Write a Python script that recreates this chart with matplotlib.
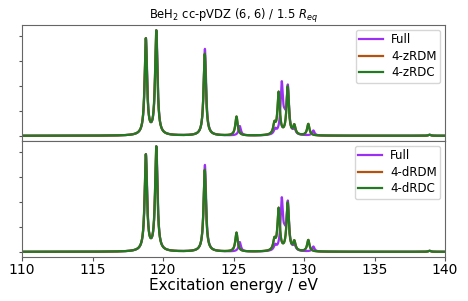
import numpy as np
import matplotlib
matplotlib.use("Agg")
import matplotlib.pyplot as plt

# Stick spectra (excitation energy in eV, relative intensity)
full_e = [118.79, 119.53, 122.97, 125.44, 127.95, 128.42, 128.62, 128.85, 129.32, 130.66, 138.9]
full_i = [0.96, 1.04, 0.87, 0.095, 0.05, 0.50, 0.10, 0.47, 0.05, 0.05, 0.01]

z_rdm_e = [118.78, 119.52, 122.96, 125.21, 127.90, 128.20, 128.84, 129.31, 130.30, 138.9]
z_rdm_i = [0.96, 1.04, 0.82, 0.19, 0.10, 0.42, 0.48, 0.09, 0.115, 0.01]
z_rdc_e = z_rdm_e
z_rdc_i = z_rdm_i

d_rdm_e = [118.78, 119.52, 122.96, 125.21, 127.90, 128.20, 128.84, 129.31, 130.30, 138.9]
d_rdm_i = [0.96, 1.04, 0.82, 0.19, 0.10, 0.42, 0.48, 0.09, 0.115, 0.01]
d_rdc_e = d_rdm_e
d_rdc_i = d_rdm_i

x_ticks = [110, 115, 120, 125, 130, 135, 140]
gamma = 0.1  # Lorentzian half width (eV)

energy = np.linspace(110, 140, 6001)


def spectrum(e, i):
    e = np.asarray(e)[:, None]
    i = np.asarray(i)[:, None]
    return np.sum(i * gamma**2 / ((energy[None, :] - e) ** 2 + gamma**2), axis=0)


c_full = '#9b30f5'
c_rdm = '#b5520f'
c_rdc = '#237a23'

fig, (ax1, ax2) = plt.subplots(2, 1, figsize=(4.68, 3.01), dpi=100, sharex=True)
fig.subplots_adjust(left=0.047, right=0.951, top=0.917, bottom=0.146, hspace=0)

panels = [
    (ax1, (z_rdm_e, z_rdm_i, '4-zRDM'), (z_rdc_e, z_rdc_i, '4-zRDC')),
    (ax2, (d_rdm_e, d_rdm_i, '4-dRDM'), (d_rdc_e, d_rdc_i, '4-dRDC')),
]
for ax, rdm, rdc in panels:
    ax.plot(energy, spectrum(full_e, full_i), color=c_full, lw=1.6, label='Full')
    ax.plot(energy, spectrum(rdm[0], rdm[1]), color=c_rdm, lw=1.6, label=rdm[2])
    ax.plot(energy, spectrum(rdc[0], rdc[1]), color=c_rdc, lw=1.6, label=rdc[2])
    ax.set_xlim(110, 140)
    ax.set_yticks([0, 0.25, 0.5, 0.75, 1.0])
    ax.set_yticklabels([])
    ax.tick_params(axis='y', length=2, width=0.8, colors='#555555')
    for s in ax.spines.values():
        s.set_color('#666666')
    ax.legend(loc='upper right', fontsize=8.5, handlelength=2.0, borderpad=0.3,
              labelspacing=0.3, handletextpad=0.7, borderaxespad=0.4,
              framealpha=0.8)

ax1.tick_params(axis='x', bottom=False)
ax2.set_xticks(x_ticks)
ax2.tick_params(axis='x', length=3, pad=1.5, labelsize=10, colors='#555555',
                labelcolor='black')
ax2.set_xlabel('Excitation energy / eV', fontsize=11, labelpad=0.5)
ax1.set_title('BeH$_2$ cc-pVDZ (6, 6) / 1.5 $R_{eq}$', fontsize=8.3, pad=1)

fig.savefig('out.png', dpi=100)
